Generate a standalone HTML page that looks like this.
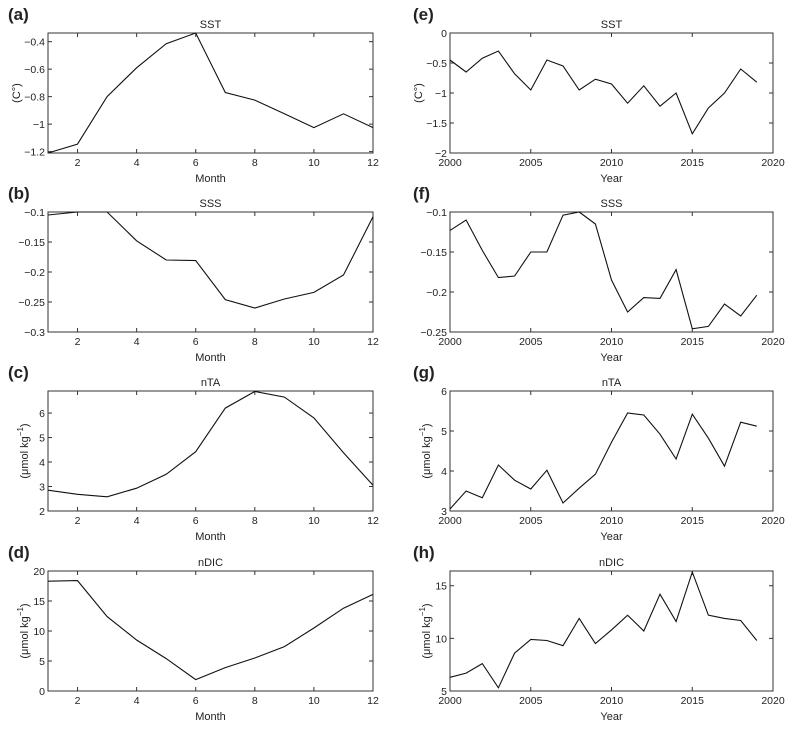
<!DOCTYPE html>
<html><head><meta charset="utf-8"><style>
body{margin:0;background:#fff;}
svg text{font-family:"Liberation Sans",sans-serif;fill:#222;}
</style></head><body>
<svg id="fig" width="794" height="732" xmlns="http://www.w3.org/2000/svg"></svg>
<script>
const months=[1,2,3,4,5,6,7,8,9,10,11,12];
const years=[2000,2001,2002,2003,2004,2005,2006,2007,2008,2009,2010,2011,2012,2013,2014,2015,2016,2017,2018,2019];
const sstMonth=[-1.21,-1.145,-0.8,-0.59,-0.415,-0.337,-0.77,-0.825,-0.925,-1.025,-0.925,-1.025];
const sssMonth=[-0.105,-0.1,-0.1,-0.148,-0.18,-0.181,-0.246,-0.26,-0.245,-0.234,-0.205,-0.108];
const ntaMonth=[2.85,2.68,2.58,2.93,3.5,4.42,6.2,6.88,6.65,5.8,4.38,3.05];
const ndicMonth=[18.3,18.4,12.4,8.5,5.4,1.9,3.9,5.5,7.4,10.5,13.8,16.1];
const sstYear=[-0.45,-0.65,-0.42,-0.3,-0.68,-0.95,-0.45,-0.55,-0.95,-0.77,-0.85,-1.17,-0.88,-1.22,-1.0,-1.68,-1.25,-1.0,-0.6,-0.82];
const sssYear=[-0.123,-0.11,-0.148,-0.182,-0.18,-0.15,-0.15,-0.104,-0.1,-0.115,-0.185,-0.225,-0.207,-0.208,-0.172,-0.246,-0.243,-0.215,-0.23,-0.204];
const ntaYear=[3.05,3.5,3.33,4.15,3.77,3.55,4.02,3.2,3.57,3.92,4.72,5.45,5.4,4.92,4.3,5.42,4.82,4.12,5.22,5.12];
const ndicYear=[6.3,6.7,7.6,5.3,8.6,9.9,9.8,9.3,11.9,9.5,10.8,12.2,10.7,14.2,11.6,16.3,12.2,11.9,11.7,9.8];
const monthTicks=[2,4,6,8,10,12];
const yearTicks=[2000,2005,2010,2015,2020];
const sstMTicks=[-1.2,-1,-0.8,-0.6,-0.4];
const sssMTicks=[-0.3,-0.25,-0.2,-0.15,-0.1];
const ntaMTicks=[2,3,4,5,6];
const ndicMTicks=[0,5,10,15,20];
const sstYTicks=[-2,-1.5,-1,-0.5,0];
const sssYTicks=[-0.25,-0.2,-0.15,-0.1];
const ntaYTicks=[3,4,5,6];
const ndicYTicks=[5,10,15];

const NS="http://www.w3.org/2000/svg";
const svg=document.getElementById('fig');
function mk(tag,attrs,parent){const e=document.createElementNS(NS,tag);for(const k in attrs)e.setAttribute(k,attrs[k]);(parent||svg).appendChild(e);return e;}
function fmt(v){return String(v).replace('-','\u2212').replace('0.','.').replace('\u2212.','\u22120.').replace(/^\./,'0.');}
const tops=[33,212,391,571];
const panels=[
 {l:'(a)',t:'SST',x:months,y:sstMonth,xl:[1,12],yl:[-1.21,-0.337],xt:monthTicks,yt:sstMTicks,xlab:'Month',ylab:'(C°)',col:0,row:0},
 {l:'(b)',t:'SSS',x:months,y:sssMonth,xl:[1,12],yl:[-0.3,-0.1],xt:monthTicks,yt:sssMTicks,xlab:'Month',ylab:'',col:0,row:1},
 {l:'(c)',t:'nTA',x:months,y:ntaMonth,xl:[1,12],yl:[2,6.9],xt:monthTicks,yt:ntaMTicks,xlab:'Month',ylab:'mu',col:0,row:2},
 {l:'(d)',t:'nDIC',x:months,y:ndicMonth,xl:[1,12],yl:[0,20],xt:monthTicks,yt:ndicMTicks,xlab:'Month',ylab:'mu',col:0,row:3},
 {l:'(e)',t:'SST',x:years,y:sstYear,xl:[2000,2020],yl:[-2,0],xt:yearTicks,yt:sstYTicks,xlab:'Year',ylab:'(C°)',col:1,row:0},
 {l:'(f)',t:'SSS',x:years,y:sssYear,xl:[2000,2020],yl:[-0.25,-0.1],xt:yearTicks,yt:sssYTicks,xlab:'Year',ylab:'',col:1,row:1},
 {l:'(g)',t:'nTA',x:years,y:ntaYear,xl:[2000,2020],yl:[3,6],xt:yearTicks,yt:ntaYTicks,xlab:'Year',ylab:'mu',col:1,row:2},
 {l:'(h)',t:'nDIC',x:years,y:ndicYear,xl:[2000,2020],yl:[5,16.4],xt:yearTicks,yt:ndicYTicks,xlab:'Year',ylab:'mu',col:1,row:3}
];
panels.forEach((p,i)=>{
 const L=p.col?450:48,R=p.col?773:373,T=tops[p.row],B=T+120;
 const g=mk('g',{});
 
 
 const sx=v=>L+(v-p.xl[0])/(p.xl[1]-p.xl[0])*(R-L);
 const sy=v=>B-(v-p.yl[0])/(p.yl[1]-p.yl[0])*(B-T);
 const lab=mk('text',{x:p.col?413:8,y:T-13,'font-size':17,'font-weight':'bold',fill:'#000'},g);lab.textContent=p.l;
 
 const tt=mk('text',{x:(L+R)/2,y:T-5,'font-size':11,'text-anchor':'middle'},g);tt.textContent=p.t;
 
 const box=mk('rect',{x:L,y:T,width:R-L,height:B-T,fill:'none',stroke:'#333','stroke-width':1},g);
 
 p.xt.forEach(v=>{const x=sx(v);
  mk('line',{x1:x,x2:x,y1:B,y2:B-4,stroke:'#333'},g);mk('line',{x1:x,x2:x,y1:T,y2:T+4,stroke:'#333'},g);
  const t=mk('text',{x:x,y:B+13,'font-size':10.5,'text-anchor':'middle'},g);t.textContent=v;
  });
 p.yt.forEach(v=>{const y=sy(v);
  mk('line',{x1:L,x2:L+4,y1:y,y2:y,stroke:'#333'},g);mk('line',{x1:R,x2:R-4,y1:y,y2:y,stroke:'#333'},g);
  const t=mk('text',{x:L-3,y:y+4,'font-size':10.5,'text-anchor':'end'},g);t.textContent=String(v).replace('-','\u2212');
  });
 const xl=mk('text',{x:(L+R)/2,y:B+29,'font-size':11,'text-anchor':'middle'},g);xl.textContent=p.xlab;
 
 if(p.ylab){const cy=(T+B)/2,cx=L-(p.ylab==='mu'?20:28);
  const yl=mk('text',{x:cx,y:cy,'font-size':11,'text-anchor':'middle',transform:`rotate(-90 ${cx} ${cy})`},g);
  if(p.ylab==='mu'){yl.textContent='(\u03bcmol kg';const s=mk('tspan',{dy:-5,'font-size':8},yl);s.textContent='\u22121';const s2=mk('tspan',{dy:5},yl);s2.textContent=')';}
  else yl.textContent=p.ylab;
  }
 const pts=p.x.map((v,j)=>sx(v).toFixed(1)+','+sy(p.y[j]).toFixed(1)).join(' ');
 const ln=mk('polyline',{points:pts,fill:'none',stroke:'#111','stroke-width':1.1},g);
 
});
</script>
</body></html>
